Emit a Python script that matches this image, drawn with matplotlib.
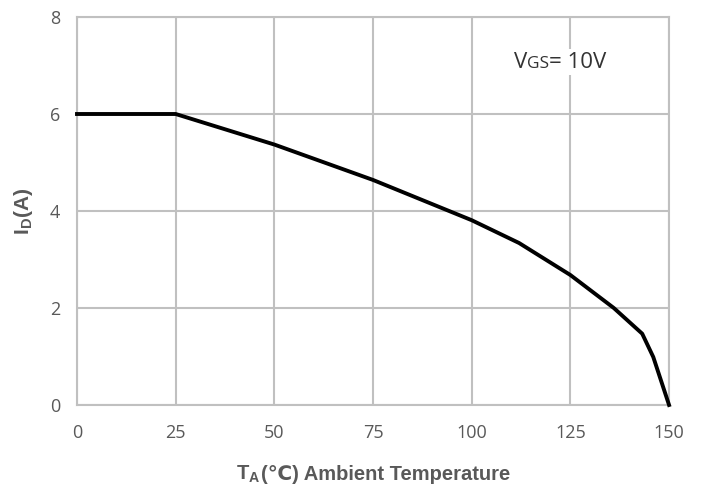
import matplotlib
matplotlib.use("Agg")
import matplotlib.pyplot as plt
from matplotlib.offsetbox import TextArea, HPacker, AnnotationBbox

# ambient temperature (degC) vs max drain current (A)
temp = [0, 25, 50, 75, 100, 112, 125, 136, 143.2, 146, 150]
current = [6, 6, 5.37, 4.64, 3.81, 3.34, 2.68, 2.0, 1.47, 0.99, 0]

x_ticks = [0, 25, 50, 75, 100, 125, 150]
y_ticks = [0, 2, 4, 6, 8]

GRID = '#c0c0c0'
TXT = '#595959'
FAM = ['Open Sans', 'DejaVu Sans']
LAB = ['Liberation Sans', 'DejaVu Sans']

plt.rcParams['font.family'] = FAM
plt.rcParams['mathtext.fontset'] = 'custom'
plt.rcParams['mathtext.rm'] = 'Liberation Sans'
plt.rcParams['mathtext.bf'] = 'Liberation Sans:bold'

fig = plt.figure(figsize=(7.05, 4.9), dpi=100)
ax = fig.add_axes([0.1092, 0.1735, 0.8398, 0.7918])

ax.plot(temp, current, color='black', lw=2.8, solid_joinstyle='round', zorder=3, clip_on=False)

ax.set_xlim(0, 150)
ax.set_ylim(0, 8)
ax.set_xticks(x_ticks)
ax.set_yticks(y_ticks)
ax.grid(True, color=GRID, lw=1.5)
ax.set_axisbelow(True)
for s in ax.spines.values():
    s.set_color(GRID)
    s.set_linewidth(1.5)
ax.tick_params(length=0, labelsize=13, labelcolor=TXT)
ax.tick_params(axis='x', pad=14)
ax.tick_params(axis='y', pad=12)

ax.set_ylabel(r'$\mathbf{I}_{\mathbf{D}}$(A)', fontsize=15, fontweight='bold',
              color=TXT, labelpad=11, family=LAB)

# x label: mathtext subscript + plain text (so the ℃ sign can fall back)
xl_parts = [TextArea(r'$\mathbf{T}_{\mathbf{A}}$',
                     textprops=dict(fontsize=14.5, color=TXT)),
            TextArea('(℃) Ambient Temperature',
                     textprops=dict(fontsize=14.5, color=TXT, fontweight='bold', family=LAB))]
xl_box = HPacker(children=xl_parts, align='baseline', pad=0, sep=0)
xl = AnnotationBbox(xl_box, (0.5, -0.18), xycoords='axes fraction',
                    frameon=False, box_alignment=(0.5, 0.5), annotation_clip=False)
ax.add_artist(xl)

# V_GS annotation with small "GS"
parts = [TextArea('V', textprops=dict(fontsize=16, color='#333333')),
         TextArea('GS', textprops=dict(fontsize=12.5, color='#333333')),
         TextArea('= 10V', textprops=dict(fontsize=16, color='#333333'))]
box = HPacker(children=parts, align='baseline', pad=0, sep=0)
ab = AnnotationBbox(box, (122.4, 7.07), xycoords='data', frameon=True,
                    pad=0.2, zorder=4)
ab.patch.set_facecolor('white')
ab.patch.set_edgecolor('none')
ax.add_artist(ab)

fig.savefig('out.png', dpi=100, facecolor='white')
